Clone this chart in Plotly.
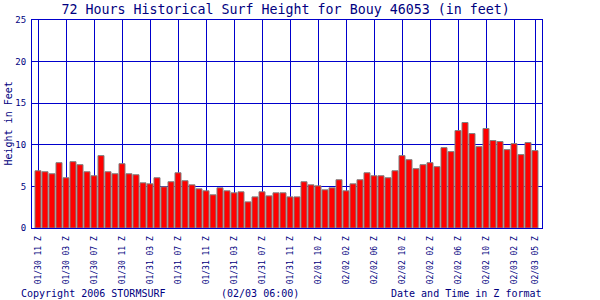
import plotly.graph_objects as go

# Hourly surf height (feet), oldest -> newest
heights = [
    6.88, 6.76, 6.52, 7.85, 6.04, 7.97, 7.61, 6.76, 6.28, 8.70,
    6.76, 6.52, 7.73, 6.52, 6.40, 5.43, 5.31, 6.04, 4.95, 5.56,
    6.64, 5.68, 5.19, 4.71, 4.47, 3.99, 4.83, 4.47, 4.23, 4.35,
    3.14, 3.74, 4.35, 3.86, 4.23, 4.23, 3.74, 3.74, 5.56, 5.19,
    5.07, 4.59, 4.83, 5.80, 4.47, 5.31, 5.80, 6.64, 6.28, 6.28,
    6.04, 6.88, 8.70, 8.21, 7.13, 7.61, 7.85, 7.37, 9.66, 9.18,
    11.71, 12.68, 11.35, 9.78, 11.96, 10.51, 10.39, 9.42, 10.14, 8.82,
    10.27, 9.30,
]
hours = list(range(len(heights)))

tick_hours = [0, 4, 8, 12, 16, 20, 24, 28, 32, 36, 40, 44, 48, 52, 56, 60, 64, 68, 71]
tick_labels = [
    "01/30 11 Z", "01/30 03 Z", "01/30 07 Z", "01/30 11 Z", "01/31 03 Z",
    "01/31 07 Z", "01/31 11 Z", "01/31 03 Z", "01/31 07 Z", "01/31 11 Z",
    "02/01 10 Z", "02/02 02 Z", "02/02 06 Z", "02/02 10 Z", "02/02 02 Z",
    "02/02 06 Z", "02/02 10 Z", "02/03 02 Z", "02/03 05 Z",
]

MONO = "DejaVu Sans Mono"
TXT = "#000080"
LINE = "#0000cc"

fig = go.Figure(go.Bar(
    x=hours, y=heights, width=0.86,
    marker=dict(color="#ff0000", line=dict(color="#808080", width=1)),
))

fig.update_layout(
    width=600, height=300,
    margin=dict(l=32, r=58, t=20, b=72),
    paper_bgcolor="white", plot_bgcolor="white",
    showlegend=False,
    title=dict(text="72 Hours Historical Surf Height for Bouy 46053 (in feet)",
               x=0.476, xref="container", xanchor="center",
               y=0.968, yref="container", yanchor="middle",
               font=dict(family=MONO, size=13.3, color=TXT)),
)
fig.update_xaxes(
    range=[-0.857, 72], tickmode="array", tickvals=tick_hours, ticktext=tick_labels,
    tickangle=-90, tickfont=dict(family=MONO, size=8, color=TXT),
    showgrid=True, gridcolor=LINE, gridwidth=1,
    showline=True, linecolor=LINE, linewidth=1, mirror=True,
    ticks="", ticklabelstandoff=4, zeroline=False,
)
fig.update_yaxes(
    range=[0, 25], dtick=5, tickfont=dict(family=MONO, size=9, color=TXT),
    showgrid=True, gridcolor=LINE, gridwidth=1,
    showline=True, linecolor=LINE, linewidth=1, mirror=True,
    ticks="", ticklabelstandoff=3, zeroline=False,
)

ann_font = dict(family=MONO, size=10, color=TXT)
fig.add_annotation(text="Height in Feet", textangle=-90, xref="paper", yref="paper",
                   x=-0.048, y=0.5, xanchor="center", yanchor="middle",
                   showarrow=False, font=ann_font)
fig.add_annotation(text="Copyright 2006 STORMSURF", xref="paper", yref="paper",
                   x=-0.025, y=-0.317, xanchor="left", yanchor="middle",
                   showarrow=False, font=ann_font)
fig.add_annotation(text="(02/03 06:00)", xref="paper", yref="paper",
                   x=0.367, y=-0.317, xanchor="left", yanchor="middle",
                   showarrow=False, font=ann_font)
fig.add_annotation(text="Date and Time in Z format", xref="paper", yref="paper",
                   x=1.004, y=-0.317, xanchor="right", yanchor="middle",
                   showarrow=False, font=ann_font)

fig.write_html("out.html")
